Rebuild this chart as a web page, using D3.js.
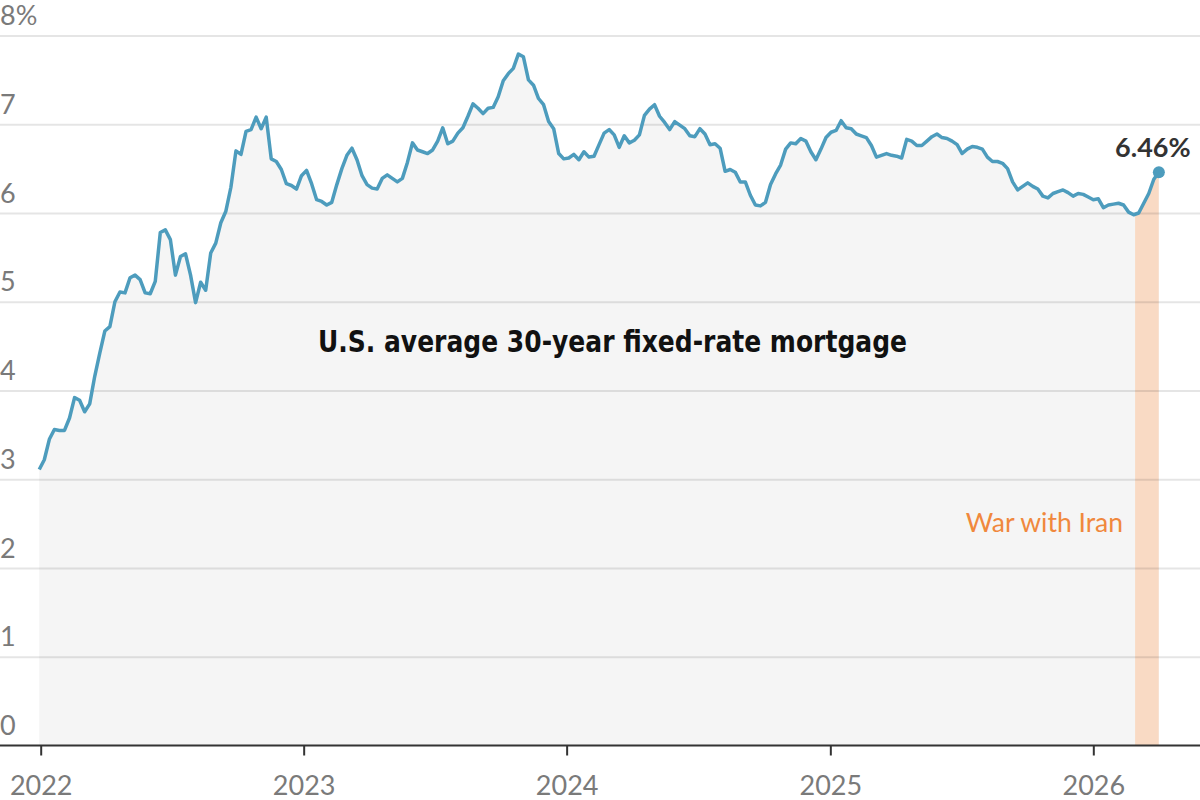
<!DOCTYPE html>
<html lang="en">

<head>
  <meta charset="UTF-8">
  <title>Mortgage rates</title>
  <script src="https://cdn.jsdelivr.net/npm/d3@7"></script>
  <style>
    body { margin: 0; background: #fff; }
    svg { display: block; }
  </style>
</head>

<body>
  <svg width="1200" height="800" id="chart"></svg>
  <script>
    // weekly Freddie Mac readings, first week is Dec 30, 2021
    var firstWeek = "2021-12-30"
    var rates2021 = [3.11]
    var rates2022 = [3.22, 3.45, 3.56, 3.55, 3.55, 3.69, 3.92, 3.89, 3.76, 3.85,
      4.16, 4.42, 4.67, 4.72, 5.00, 5.11, 5.10, 5.27, 5.30, 5.25,
      5.10, 5.09, 5.23, 5.78, 5.81, 5.70, 5.30, 5.51, 5.54, 5.30,
      4.99, 5.22, 5.13, 5.55, 5.66, 5.89, 6.02, 6.29, 6.70, 6.66,
      6.92, 6.94, 7.08, 6.95, 7.08, 6.61, 6.58, 6.49, 6.33, 6.31,
      6.27, 6.42]
    var rates2023 = [6.48, 6.33, 6.15, 6.13, 6.09, 6.12, 6.32, 6.50, 6.65, 6.73,
      6.60, 6.42, 6.32, 6.28, 6.27, 6.39, 6.43, 6.39, 6.35, 6.39,
      6.57, 6.79, 6.71, 6.69, 6.67, 6.71, 6.81, 6.96, 6.78, 6.81,
      6.90, 6.96, 7.09, 7.23, 7.18, 7.12, 7.18, 7.19, 7.31, 7.49,
      7.57, 7.63, 7.79, 7.76, 7.50, 7.44, 7.29, 7.22, 7.03, 6.95,
      6.67, 6.61]
    var rates2024 = [6.62, 6.66, 6.60, 6.69, 6.63, 6.64, 6.77, 6.90, 6.94, 6.88,
      6.74, 6.87, 6.79, 6.82, 6.88, 7.10, 7.17, 7.22, 7.09, 7.02,
      6.94, 7.03, 6.99, 6.95, 6.87, 6.86, 6.95, 6.89, 6.77, 6.78,
      6.73, 6.47, 6.49, 6.46, 6.35, 6.35, 6.20, 6.09, 6.08, 6.12,
      6.32, 6.44, 6.54, 6.72, 6.79, 6.78, 6.84, 6.81, 6.69, 6.60,
      6.72, 6.85]
    var rates2025 = [6.91, 6.93, 7.04, 6.96, 6.95, 6.89, 6.87, 6.85, 6.76, 6.63,
      6.65, 6.67, 6.65, 6.64, 6.62, 6.83, 6.81, 6.76, 6.76, 6.81,
      6.86, 6.89, 6.85, 6.84, 6.81, 6.77, 6.67, 6.72, 6.75, 6.74,
      6.72, 6.63, 6.58, 6.58, 6.56, 6.50, 6.35, 6.26, 6.30, 6.34,
      6.30, 6.27, 6.19, 6.17, 6.22, 6.24, 6.26, 6.23, 6.19, 6.22,
      6.21, 6.18, 6.15]
    var rates2026 = [6.16, 6.06, 6.09, 6.10, 6.11, 6.09, 6.01, 5.98, 6.00, 6.11,
      6.22, 6.38, 6.46]

    var yearTicks = ["2022", "2023", "2024", "2025", "2026"]
    var rateTicks = [0, 1, 2, 3, 4, 5, 6, 7, 8]
    var warStart = "2026-02-28"
    var title = "U.S. average 30-year fixed-rate mortgage"
    var warLabel = "War with Iran"

    var allRates = [].concat(rates2021, rates2022, rates2023, rates2024, rates2025, rates2026)
    var parse = d3.utcParse("%Y-%m-%d")
    var start = parse(firstWeek)
    var data = allRates.map(function (v, i) { return { date: d3.utcDay.offset(start, 7 * i), value: v } })
    var last = data[data.length - 1]

    var svg = d3.select("#chart"),
      W = +svg.attr("width")

    var x = d3.scaleUtc()
      .domain([parse("2022-01-01"), parse("2026-01-01")])
      .range([40.7, 1093.3])
    var y = d3.scaleLinear().domain([0, 8]).range([745.5, 35.5])

    var area = d3.area()
      .x(function (d) { return x(d.date); })
      .y0(y(0))
      .y1(function (d) { return y(d.value); })

    var line = d3.line()
      .x(function (d) { return x(d.date); })
      .y(function (d) { return y(d.value); })

    // grey area under the line
    svg.append("path")
      .datum(data)
      .attr("d", area)
      .style("fill", "#f5f5f5")

    // war period, clipped to the area
    svg.append("clipPath")
      .attr("id", "areaClip")
      .append("path")
      .datum(data)
      .attr("d", area)

    svg.append("rect")
      .attr("clip-path", "url(#areaClip)")
      .attr("x", x(parse(warStart)))
      .attr("width", x(last.date) - x(parse(warStart)))
      .attr("y", 0)
      .attr("height", y(0))
      .style("fill", "#f9dac4")

    // gridlines + y labels
    var yAxis = svg.append("g")
      .call(d3.axisRight(y).tickValues(rateTicks).tickSize(W)
        .tickFormat(function (d) { return d === 8 ? "8%" : d; }))
    yAxis.select(".domain").remove()
    yAxis.selectAll(".tick line")
      .attr("stroke", "#000")
      .attr("stroke-opacity", function (d) { return d === 0 ? 0 : 0.1; })
      .attr("stroke-width", 2)
    yAxis.selectAll(".tick text")
      .attr("x", 0)
      .attr("dy", -11)
      .attr("text-anchor", "start")
      .style("font-family", "Lato, 'Open Sans', sans-serif")
      .style("font-size", "27px")
      .style("fill", "#7a7a7a")

    // x axis
    svg.append("line")
      .attr("x1", 0).attr("x2", W)
      .attr("y1", y(0)).attr("y2", y(0))
      .style("stroke", "#333")
      .style("stroke-width", 2)

    var xAxis = svg.append("g")
      .attr("transform", "translate(0," + y(0) + ")")
      .call(d3.axisBottom(x).tickValues(yearTicks.map(function (t) { return parse(t + "-01-01"); }))
        .tickSize(10).tickPadding(20).tickFormat(d3.utcFormat("%Y")))
    xAxis.select(".domain").remove()
    xAxis.selectAll(".tick line")
      .attr("stroke", "#333")
      .attr("stroke-width", 2)
    xAxis.selectAll(".tick text")
      .style("font-family", "Lato, 'Open Sans', sans-serif")
      .style("font-size", "27px")
      .style("fill", "#7a7a7a")

    // the rate line
    svg.append("path")
      .datum(data)
      .attr("d", line)
      .style("fill", "none")
      .style("stroke", "#4d9cbd")
      .style("stroke-width", 3.5)
      .style("stroke-linejoin", "round")

    svg.append("circle")
      .attr("cx", x(last.date))
      .attr("cy", y(last.value))
      .attr("r", 6)
      .style("fill", "#4d9cbd")

    svg.append("text")
      .attr("x", x(last.date) - 6)
      .attr("y", y(last.value) - 15)
      .attr("text-anchor", "middle")
      .style("font-family", "Lato, 'Open Sans', sans-serif")
      .style("font-weight", "bold")
      .style("font-size", "27px")
      .style("fill", "#333")
      .text(d3.format(".2f")(last.value) + "%")

    svg.append("text")
      .attr("x", x(parse(warStart)) - 12)
      .attr("y", 532)
      .attr("text-anchor", "end")
      .style("font-family", "Lato, 'Open Sans', sans-serif")
      .style("font-size", "26.5px")
      .style("fill", "#f0883d")
      .text(warLabel)

    svg.append("text")
      .attr("x", 612.5)
      .attr("y", 352)
      .attr("text-anchor", "middle")
      .attr("textLength", 589)
      .attr("lengthAdjust", "spacingAndGlyphs")
      .style("font-family", "'Liberation Sans Narrow', 'DejaVu Sans Condensed', sans-serif")
      .style("font-stretch", "condensed")
      .style("font-weight", "bold")
      .style("font-size", "30px")
      .style("fill", "#111")
      .text(title)
  </script>
</body>

</html>
